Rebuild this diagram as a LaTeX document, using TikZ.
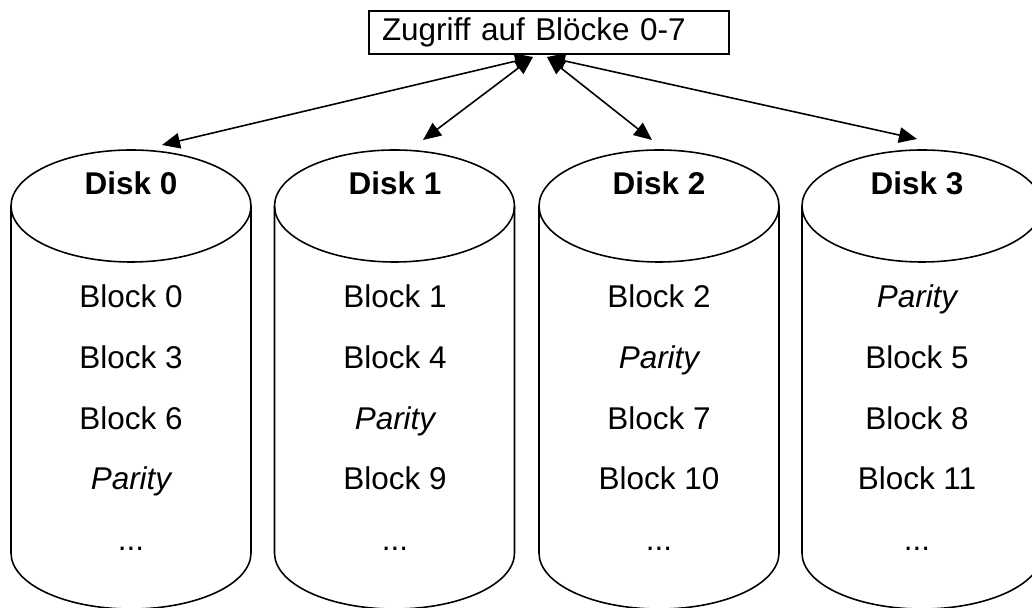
\documentclass[tikz,border=0pt]{standalone}
\usepackage{fontspec}
\setmainfont{Liberation Sans}
\usetikzlibrary{arrows.meta,positioning,calc}

\begin{document}
\begin{tikzpicture}[> = {Triangle[length=3.6mm,width=3.1mm]}, line width=0.9pt]
    \tikzstyle{blk}=[anchor=base, inner sep=0pt, font=\fontsize{17.9}{20}\selectfont]
    \tikzstyle{disk}=[blk, font=\fontsize{17.9}{20}\selectfont\bfseries]
    \tikzstyle{parity}=[blk, font=\fontsize{17.9}{20}\selectfont\itshape]

    \useasboundingbox (0,0) rectangle (20.64,12.16);
    \clip (0,0) rectangle (20.64,12.16);

    % Platten
    \draw (2.62,8.04) ellipse (2.4 and 1.12);
    \draw (0.22,8.04) -- (0.22,1.1) arc (180:360:2.4 and 1.12) -- (5.02,8.04);
    \draw (7.89,8.04) ellipse (2.4 and 1.12);
    \draw (5.49,8.04) -- (5.49,1.1) arc (180:360:2.4 and 1.12) -- (10.29,8.04);
    \draw (13.18,8.04) ellipse (2.4 and 1.12);
    \draw (10.78,8.04) -- (10.78,1.1) arc (180:360:2.4 and 1.12) -- (15.58,8.04);
    \draw (18.44,8.04) ellipse (2.4 and 1.12);
    \draw (16.04,8.04) -- (16.04,1.1) arc (180:360:2.4 and 1.12) -- (20.84,8.04);

    % Zugriff
    \node[draw, text width=6.68cm, inner xsep=0.26cm, minimum height=0.86cm,
          font=\fontsize{17.9}{20}\selectfont] (access) at (10.98,11.51) {Zugriff auf Blöcke 0-7};
    \coordinate (accL) at (10.66,11.02);
    \coordinate (accR) at (10.94,11.02);

    % Disk 0
    \node[disk] (d0) at (2.62,8.26) {Disk 0};
    \node[blk] (b0) at (2.62,6.0) {Block 0};
    \node[blk] (b3) at (2.62,4.78) {Block 3};
    \node[blk] (b6) at (2.62,3.56) {Block 6};
    \node[parity] (p0) at (2.62,2.36) {Parity};
    \node[blk] (e0) at (2.62,1.14) {...};

    % Disk 1
    \node[disk] (d1) at (7.9,8.26) {Disk 1};
    \node[blk] (b1) at (7.9,6.0) {Block 1};
    \node[blk] (b4) at (7.9,4.78) {Block 4};
    \node[parity] (p1) at (7.9,3.56) {Parity};
    \node[blk] (b9) at (7.9,2.36) {Block 9};
    \node[blk] (e1) at (7.9,1.14) {...};

    % Disk 2
    \node[disk] (d2) at (13.18,8.26) {Disk 2};
    \node[blk] (b2) at (13.18,6.0) {Block 2};
    \node[parity] (p2) at (13.18,4.78) {Parity};
    \node[blk] (b7) at (13.18,3.56) {Block 7};
    \node[blk] (b10) at (13.18,2.36) {Block 10};
    \node[blk] (e2) at (13.18,1.14) {...};

    % Disk 3
    \node[disk] (d3) at (18.34,8.26) {Disk 3};
    \node[parity] (p3) at (18.34,6.0) {Parity};
    \node[blk] (b5) at (18.34,4.78) {Block 5};
    \node[blk] (b8) at (18.34,3.56) {Block 8};
    \node[blk] (b11) at (18.34,2.36) {Block 11};
    \node[blk] (e3) at (18.34,1.14) {...};

    % Pfeile
    \coordinate (top0) at (3.24,9.26);
    \coordinate (top1) at (8.46,9.36);
    \coordinate (top2) at (13.04,9.36);
    \coordinate (top3) at (18.34,9.38);
    \draw[<->] (accL) -- (top0);
    \draw[<->] (accL) -- (top1);
    \draw[<->] (accR) -- (top2);
    \draw[<->] (accR) -- (top3);
\end{tikzpicture}
\end{document}
